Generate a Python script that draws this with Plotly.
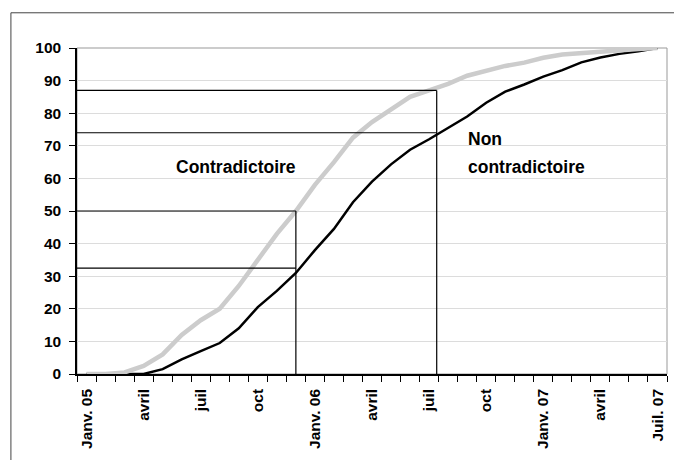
import plotly.graph_objects as go

# --- data -------------------------------------------------------------
months = ["janv05", "fev05", "mars05", "avr05", "mai05", "juin05", "juil05", "aout05",
          "sept05", "oct05", "nov05", "dec05", "janv06", "fev06", "mars06", "avr06",
          "mai06", "juin06", "juil06", "aout06", "sept06", "oct06", "nov06", "dec06",
          "janv07", "fev07", "mars07", "avr07", "mai07", "juin07", "juil07"]
contradictoire = [0, 0, 0.5, 2.5, 6, 12, 16.5, 20, 27, 35, 43, 50, 58, 65, 72.5, 77.3,
                  81.3, 85, 87, 89, 91.5, 93, 94.5, 95.5, 97, 98, 98.5, 99, 99.5, 99.7, 100]
non_contradictoire = [0, 0, 0, 0, 1.5, 4.5, 7, 9.5, 14, 20.5, 25.5, 31, 38, 44.5, 52.7,
                      59, 64.3, 68.8, 72, 75.5, 79, 83.2, 86.6, 88.8, 91.2, 93.2, 95.6,
                      97.1, 98.2, 99, 100]
tick_positions = [0, 3, 6, 9, 12, 15, 18, 21, 24, 27, 30]
tick_labels = ["Janv. 05", "avril", "juil", "oct", "Janv. 06", "avril", "juil", "oct",
               "Janv. 07", "avril", "Juil. 07"]
# reference marks: month position, and the two levels read at that month
ref_x = [11, 18.4]
ref_levels = [[50, 32.5], [87, 74]]
label_contra = "Contradictoire"
label_non = ["Non", "contradictoire"]

FONT = "Liberation Sans, Arial, sans-serif"
x = list(range(len(months)))

fig = go.Figure()
fig.add_trace(go.Scatter(x=x, y=non_contradictoire, mode="lines",
                         line=dict(color="#000000", width=2.5), name="Non contradictoire"))
fig.add_trace(go.Scatter(x=x, y=contradictoire, mode="lines",
                         line=dict(color="#cccccc", width=4.5), name="Contradictoire"))

shapes = []
# plot area border (grey, top & right)
shapes.append(dict(type="rect", xref="paper", yref="paper", x0=0, x1=1, y0=0, y1=1,
                   line=dict(color="#999999", width=1), layer="below"))
# outer frame
shapes.append(dict(type="rect", xref="paper", yref="paper", x0=-0.112, x1=1.019,
                   y0=-0.35, y1=1.108, line=dict(color="#444444", width=1)))
for xv, levels in zip(ref_x, ref_levels):
    shapes.append(dict(type="line", xref="x", yref="y", x0=xv, x1=xv, y0=0, y1=max(levels),
                       line=dict(color="black", width=1.2)))
    for lv in levels:
        shapes.append(dict(type="line", xref="x", yref="y", x0=-0.5, x1=xv, y0=lv, y1=lv,
                           line=dict(color="black", width=1.2)))

fig.update_layout(
    width=682, height=460,
    margin=dict(l=69, r=23, t=40, b=94, autoexpand=False),
    paper_bgcolor="white", plot_bgcolor="white",
    showlegend=False,
    font=dict(family=FONT, color="black", size=15, weight="bold"),
    shapes=shapes,
    xaxis=dict(range=[-0.5, len(months) - 0.5], tickmode="array",
               tickvals=tick_positions, ticktext=tick_labels, tickangle=-90,
               ticks="", ticklen=6, showgrid=False, zeroline=False, automargin=False,
               showline=True, linecolor="black", linewidth=1.5, ticklabelstandoff=7,
               tickfont=dict(family=FONT, size=15.5, color="black", weight="bold"),
               minor=dict(tickmode="array",
                          tickvals=[i - 0.5 for i in range(len(months) + 1)],
                          ticks="outside", ticklen=6, tickcolor="black", tickwidth=1,
                          showgrid=False)),
    yaxis=dict(range=[0, 100], tickmode="linear", tick0=0, dtick=10, automargin=False,
               ticks="outside", ticklen=6, tickcolor="black", tickwidth=1,
               showgrid=True, gridcolor="#dcdcdc", gridwidth=1, zeroline=False,
               showline=True, linecolor="black", linewidth=1.5, ticklabelstandoff=5,
               tickfont=dict(family=FONT, size=15.5, color="black", weight="bold")),
    annotations=[
        dict(x=7.85, y=63.5, xref="x", yref="y", text=label_contra, showarrow=False,
             xanchor="center", yanchor="middle",
             font=dict(family=FONT, size=17.5, color="black", weight="bold")),
        dict(x=20.05, y=72.2, xref="x", yref="y", text=label_non[0], showarrow=False,
             xanchor="left", yanchor="middle", xshift=-2,
             font=dict(family=FONT, size=17.5, color="black", weight="bold")),
        dict(x=20.05, y=63.5, xref="x", yref="y", text=label_non[1], showarrow=False,
             xanchor="left", yanchor="middle", xshift=-2,
             font=dict(family=FONT, size=17.5, color="black", weight="bold")),
    ],
)

fig.write_html("out.html")
